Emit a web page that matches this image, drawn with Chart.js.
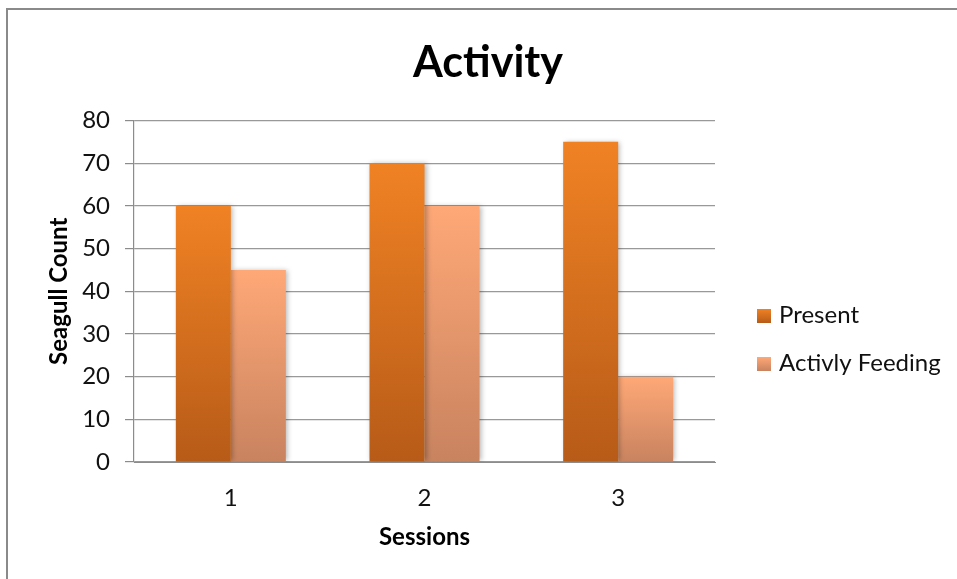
<!DOCTYPE html>
<html>
<head>
<meta charset="utf-8">
<script src="https://cdn.jsdelivr.net/npm/chart.js@4.4.1/dist/chart.umd.min.js"></script>
<style>
  html, body { margin: 0; padding: 0; background: #ffffff; }
  #wrap { width: 957px; height: 579px; position: relative; }
</style>
</head>
<body>
<div id="wrap"><canvas id="chart" width="957" height="579"></canvas></div>
<script>
// Seagull observations per session
const sessions = ['1', '2', '3'];
const presentCounts = [60, 70, 75];
const feedingCounts = [45, 60, 20];
const seriesNames = ['Present', 'Activly Feeding'];
const chartTitle = 'Activity';
const xTitle = 'Sessions';
const yTitle = 'Seagull Count';
const yMin = 0, yMax = 80, yStep = 10;

// Vertical gradient stops for each series (top, bottom)
const presentShades = ['#F08224', '#B75B18'];
const feedingShades = ['#FFA877', '#C8835F'];

const FONT = 'Lato, "Open Sans", sans-serif';

function barGradient(shades) {
  return (ctx) => {
    const chart = ctx.chart;
    if (!chart.chartArea || ctx.raw === undefined) return shades[0];
    const y = chart.scales.y;
    const top = y.getPixelForValue(ctx.raw);
    const base = y.getPixelForValue(0);
    if (!(base > top)) return shades[0];
    const g = chart.ctx.createLinearGradient(0, top, 0, base);
    g.addColorStop(0, shades[0]);
    g.addColorStop(1, shades[1]);
    return g;
  };
}

// Outer frame and chart heading
const framePlugin = {
  id: 'frame',
  beforeDraw(chart) {
    const c = chart.ctx;
    c.save();
    c.fillStyle = '#ffffff';
    c.fillRect(0, 0, chart.width, chart.height);
    c.strokeStyle = '#8a8a8a';
    c.lineWidth = 2;
    c.beginPath();
    c.moveTo(7, chart.height + 2);
    c.lineTo(7, 9);
    c.lineTo(chart.width + 2, 9);
    c.stroke();
    c.restore();
  },
  afterDraw(chart) {
    const c = chart.ctx;
    c.save();
    c.fillStyle = '#000000';
    c.font = 'bold 43px ' + FONT;
    c.textAlign = 'center';
    c.textBaseline = 'alphabetic';
    c.fillText(chartTitle, 488, 77);
    c.restore();
  }
};

// Soft drop shadow behind the bars
const shadowPlugin = {
  id: 'barShadow',
  beforeDatasetsDraw(chart) {
    const c = chart.ctx;
    c.save();
    c.shadowColor = 'rgba(0,0,0,0.28)';
    c.shadowBlur = 5;
    c.shadowOffsetX = 2;
    c.shadowOffsetY = 0;
  },
  afterDatasetsDraw(chart) {
    chart.ctx.restore();
  }
};

// Legend to the right of the plot
const sideLegend = {
  id: 'sideLegend',
  afterDraw(chart) {
    const c = chart.ctx;
    const area = chart.chartArea;
    const x0 = area.right + 42;
    const rows = [316, 364];
    c.save();
    chart.data.datasets.forEach((ds, i) => {
      const cy = rows[i];
      const shades = ds._shades;
      const g = c.createLinearGradient(0, cy - 7, 0, cy + 7);
      g.addColorStop(0, shades[0]);
      g.addColorStop(1, shades[1]);
      c.fillStyle = g;
      c.fillRect(x0, cy - 7, 14, 14);
      c.fillStyle = '#111111';
      c.font = '24px ' + FONT;
      c.textAlign = 'left';
      c.textBaseline = 'middle';
      c.fillText(ds.label, x0 + 22, cy - 1);
    });
    c.restore();
  }
};

const ctx = document.getElementById('chart').getContext('2d');
new Chart(ctx, {
  type: 'bar',
  data: {
    labels: sessions,
    datasets: [
      { label: seriesNames[0], data: presentCounts, backgroundColor: barGradient(presentShades), _shades: presentShades },
      { label: seriesNames[1], data: feedingCounts, backgroundColor: barGradient(feedingShades), _shades: feedingShades }
    ]
  },
  options: {
    responsive: false,
    animation: false,
    devicePixelRatio: 1,
    layout: { padding: { left: 0, top: 120.5, right: 242, bottom: 0 } },
    datasets: { bar: { categoryPercentage: 0.568, barPercentage: 1.0, borderWidth: 0 } },
    plugins: {
      legend: { display: false },
      title: { display: false },
      tooltip: { enabled: false }
    },
    scales: {
      x: {
        afterFit(scale) { scale.height = 117; },
        grid: { display: false, drawTicks: false },
        border: { display: true, color: '#8c8c8c', width: 1 },
        ticks: { color: '#111111', font: { family: FONT, size: 24 }, padding: 22 },
        title: { display: true, text: xTitle, color: '#000000', font: { family: FONT, size: 24, weight: 'bold' }, padding: { top: 0, bottom: 27 } }
      },
      y: {
        min: yMin, max: yMax,
        afterFit(scale) { scale.width = 134; },
        grid: { color: '#999999', lineWidth: 1.2, tickLength: 9, tickColor: '#8c8c8c' },
        border: { display: true, color: '#8c8c8c', width: 1.2 },
        ticks: { stepSize: yStep, color: '#111111', font: { family: FONT, size: 24 }, padding: 15 },
        title: { display: true, text: yTitle, color: '#000000', font: { family: FONT, size: 24, weight: 'bold' }, padding: { top: 45, bottom: 0 } }
      }
    }
  },
  plugins: [framePlugin, shadowPlugin, sideLegend]
});
</script>
</body>
</html>
